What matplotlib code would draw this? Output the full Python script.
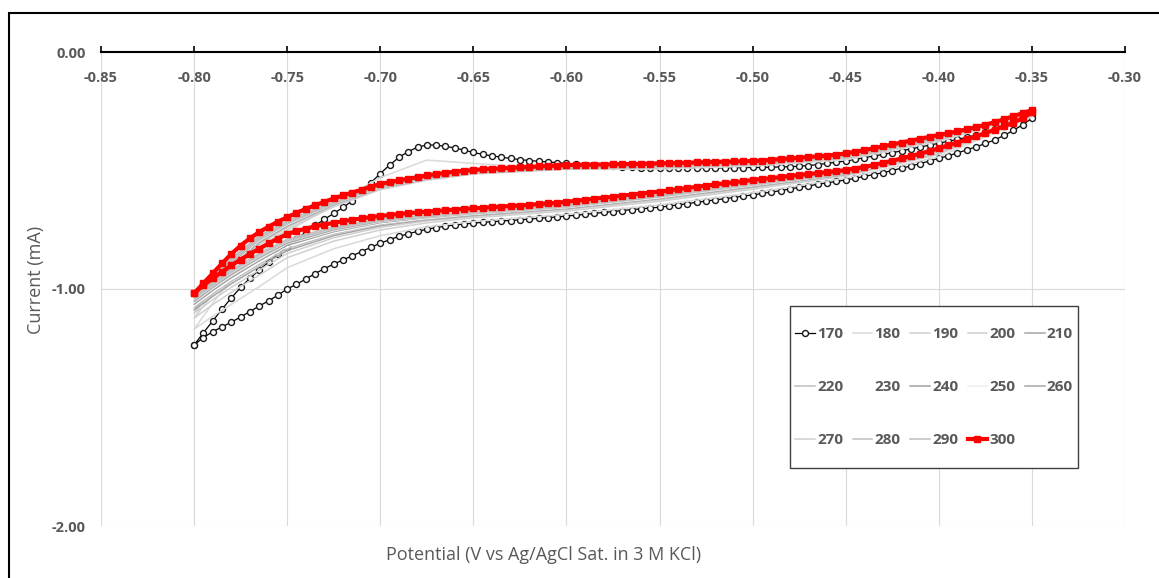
import numpy as np
import matplotlib
matplotlib.use("Agg")
import matplotlib.pyplot as plt
from matplotlib.patches import Rectangle

plt.rcParams['font.family'] = ['Open Sans', 'DejaVu Sans']
plt.rcParams['axes.unicode_minus'] = False

# ---- data -------------------------------------------------------------
# cycles 170 and 300: 0.005 V steps, forward sweep -0.35 -> -0.80, then back
v_fwd = np.linspace(-0.35, -0.80, 91)
v_rev = v_fwd[::-1]

i170_fwd = [-0.266, -0.285, -0.300, -0.314, -0.327, -0.339, -0.350, -0.360, -0.369, -0.377,
            -0.385, -0.393, -0.401, -0.409, -0.417, -0.425, -0.432, -0.439, -0.446, -0.453,
            -0.460, -0.465, -0.470, -0.475, -0.479, -0.482, -0.484, -0.485, -0.486, -0.487,
            -0.487, -0.488, -0.488, -0.489, -0.489, -0.490, -0.490, -0.490, -0.491, -0.491,
            -0.491, -0.490, -0.489, -0.487, -0.485, -0.483, -0.480, -0.478, -0.475, -0.473,
            -0.470, -0.467, -0.464, -0.461, -0.458, -0.454, -0.449, -0.444, -0.438, -0.432,
            -0.424, -0.414, -0.405, -0.398, -0.393, -0.392, -0.402, -0.420, -0.445, -0.477,
            -0.513, -0.551, -0.590, -0.628, -0.656, -0.681, -0.706, -0.732, -0.760, -0.790,
            -0.821, -0.853, -0.886, -0.920, -0.955, -0.993, -1.038, -1.085, -1.135, -1.185,
            -1.236]
i170_rev = [-1.236, -1.205, -1.180, -1.160, -1.140, -1.118, -1.095, -1.072, -1.050, -1.026,
            -1.000, -0.980, -0.958, -0.935, -0.914, -0.895, -0.877, -0.860, -0.842, -0.824,
            -0.807, -0.792, -0.778, -0.767, -0.757, -0.748, -0.741, -0.735, -0.730, -0.726,
            -0.722, -0.719, -0.716, -0.713, -0.711, -0.708, -0.705, -0.702, -0.699, -0.696,
            -0.692, -0.689, -0.685, -0.681, -0.677, -0.673, -0.669, -0.665, -0.662, -0.658,
            -0.655, -0.650, -0.645, -0.640, -0.634, -0.629, -0.624, -0.619, -0.614, -0.608,
            -0.603, -0.597, -0.591, -0.585, -0.578, -0.571, -0.565, -0.558, -0.552, -0.546,
            -0.540, -0.533, -0.525, -0.517, -0.509, -0.500, -0.490, -0.481, -0.471, -0.460,
            -0.449, -0.438, -0.426, -0.413, -0.400, -0.386, -0.371, -0.352, -0.331, -0.307,
            -0.280]

i300_fwd = [-0.245, -0.258, -0.271, -0.284, -0.296, -0.307, -0.317, -0.326, -0.335, -0.343,
            -0.350, -0.358, -0.366, -0.374, -0.382, -0.390, -0.398, -0.406, -0.414, -0.421,
            -0.428, -0.433, -0.437, -0.440, -0.443, -0.446, -0.449, -0.452, -0.455, -0.458,
            -0.460, -0.461, -0.462, -0.463, -0.464, -0.465, -0.466, -0.467, -0.468, -0.469,
            -0.470, -0.471, -0.472, -0.473, -0.473, -0.474, -0.475, -0.475, -0.476, -0.476,
            -0.477, -0.479, -0.481, -0.483, -0.485, -0.487, -0.489, -0.491, -0.493, -0.495,
            -0.498, -0.501, -0.505, -0.510, -0.515, -0.521, -0.528, -0.535, -0.542, -0.549,
            -0.557, -0.568, -0.581, -0.593, -0.605, -0.618, -0.632, -0.647, -0.662, -0.679,
            -0.697, -0.716, -0.737, -0.760, -0.786, -0.817, -0.852, -0.892, -0.934, -0.976,
            -1.018]
i300_rev = [-1.018, -0.985, -0.955, -0.928, -0.900, -0.876, -0.852, -0.830, -0.808, -0.787,
            -0.768, -0.756, -0.745, -0.736, -0.728, -0.721, -0.714, -0.708, -0.702, -0.697,
            -0.692, -0.688, -0.684, -0.680, -0.677, -0.674, -0.671, -0.668, -0.665, -0.662,
            -0.660, -0.657, -0.655, -0.652, -0.650, -0.648, -0.645, -0.642, -0.639, -0.636,
            -0.632, -0.628, -0.624, -0.619, -0.615, -0.611, -0.606, -0.602, -0.598, -0.593,
            -0.589, -0.584, -0.579, -0.574, -0.569, -0.564, -0.559, -0.554, -0.550, -0.545,
            -0.540, -0.536, -0.532, -0.528, -0.523, -0.519, -0.515, -0.511, -0.507, -0.503,
            -0.498, -0.492, -0.485, -0.477, -0.468, -0.459, -0.449, -0.439, -0.429, -0.418,
            -0.406, -0.394, -0.382, -0.369, -0.356, -0.342, -0.328, -0.313, -0.298, -0.279,
            -0.255]

# intermediate cycles, read on a coarser potential grid
vg_fwd = [-0.35, -0.40, -0.45, -0.50, -0.55, -0.60, -0.65, -0.675, -0.70, -0.725,
          -0.75, -0.765, -0.78, -0.79, -0.80]
vg_rev = vg_fwd[::-1]

gray_cycles = [180, 190, 200, 210, 220, 230, 240, 250, 260, 270, 280, 290]
gray_colors = ['#d9d9d9', '#d0d0d0', '#d0d0d0', '#a6a6a6', '#bfbfbf', '#ffffff',
               '#a0a0a0', '#ededed', '#a6a6a6', '#d0d0d0', '#c0c0c0', '#bfbfbf']

gray_fwd = {
    180: [-0.262, -0.378, -0.455, -0.482, -0.494, -0.495, -0.470, -0.456, -0.530, -0.640, -0.760, -0.850, -0.960, -1.060, -1.170],
    190: [-0.259, -0.372, -0.450, -0.477, -0.489, -0.495, -0.515, -0.541, -0.581, -0.653, -0.750, -0.824, -0.929, -1.022, -1.123],
    200: [-0.257, -0.369, -0.448, -0.475, -0.487, -0.493, -0.513, -0.538, -0.578, -0.648, -0.741, -0.813, -0.915, -1.005, -1.103],
    210: [-0.256, -0.367, -0.446, -0.474, -0.486, -0.492, -0.511, -0.536, -0.575, -0.644, -0.735, -0.805, -0.906, -0.994, -1.089],
    220: [-0.255, -0.366, -0.445, -0.473, -0.485, -0.491, -0.510, -0.535, -0.573, -0.642, -0.731, -0.800, -0.900, -0.986, -1.080],
    230: [-0.255, -0.365, -0.444, -0.472, -0.484, -0.490, -0.509, -0.533, -0.572, -0.639, -0.728, -0.795, -0.894, -0.980, -1.071],
    240: [-0.254, -0.364, -0.443, -0.471, -0.483, -0.489, -0.508, -0.532, -0.570, -0.638, -0.725, -0.792, -0.890, -0.974, -1.065],
    250: [-0.254, -0.363, -0.443, -0.470, -0.482, -0.488, -0.508, -0.531, -0.569, -0.636, -0.722, -0.788, -0.885, -0.969, -1.058],
    260: [-0.253, -0.362, -0.442, -0.470, -0.482, -0.488, -0.507, -0.531, -0.568, -0.635, -0.720, -0.785, -0.882, -0.964, -1.053],
    270: [-0.253, -0.362, -0.441, -0.469, -0.481, -0.487, -0.506, -0.530, -0.567, -0.633, -0.717, -0.782, -0.878, -0.960, -1.047],
    280: [-0.252, -0.361, -0.441, -0.469, -0.481, -0.487, -0.506, -0.529, -0.566, -0.632, -0.715, -0.779, -0.875, -0.956, -1.042],
    290: [-0.252, -0.360, -0.440, -0.468, -0.480, -0.486, -0.505, -0.528, -0.565, -0.630, -0.712, -0.775, -0.870, -0.950, -1.035],
}
gray_rev = {
    180: [-1.170, -1.115, -1.065, -0.990, -0.910, -0.830, -0.775, -0.738, -0.715, -0.685, -0.645, -0.594, -0.532, -0.442, -0.274],
    190: [-1.123, -1.066, -1.014, -0.941, -0.868, -0.798, -0.751, -0.721, -0.700, -0.671, -0.630, -0.579, -0.523, -0.432, -0.268],
    200: [-1.103, -1.045, -0.993, -0.920, -0.850, -0.784, -0.740, -0.713, -0.694, -0.665, -0.624, -0.573, -0.520, -0.428, -0.266],
    210: [-1.089, -1.031, -0.978, -0.906, -0.838, -0.775, -0.733, -0.708, -0.690, -0.661, -0.619, -0.569, -0.517, -0.425, -0.264],
    220: [-1.080, -1.021, -0.968, -0.896, -0.830, -0.768, -0.728, -0.705, -0.687, -0.658, -0.616, -0.566, -0.515, -0.423, -0.263],
    230: [-1.071, -1.013, -0.959, -0.888, -0.822, -0.763, -0.724, -0.702, -0.684, -0.656, -0.614, -0.563, -0.514, -0.422, -0.262],
    240: [-1.065, -1.006, -0.952, -0.881, -0.816, -0.758, -0.720, -0.699, -0.682, -0.654, -0.611, -0.561, -0.513, -0.420, -0.262],
    250: [-1.058, -0.999, -0.945, -0.874, -0.810, -0.754, -0.717, -0.697, -0.680, -0.652, -0.609, -0.559, -0.511, -0.419, -0.261],
    260: [-1.053, -0.993, -0.939, -0.868, -0.806, -0.750, -0.714, -0.695, -0.678, -0.650, -0.608, -0.557, -0.510, -0.418, -0.260],
    270: [-1.047, -0.988, -0.933, -0.863, -0.801, -0.746, -0.711, -0.693, -0.677, -0.649, -0.606, -0.556, -0.509, -0.417, -0.259],
    280: [-1.042, -0.982, -0.927, -0.857, -0.796, -0.743, -0.709, -0.691, -0.675, -0.647, -0.604, -0.554, -0.508, -0.415, -0.259],
    290: [-1.035, -0.975, -0.920, -0.850, -0.790, -0.738, -0.705, -0.688, -0.673, -0.645, -0.602, -0.552, -0.507, -0.414, -0.258],
}

x_ticks = [-0.85, -0.80, -0.75, -0.70, -0.65, -0.60, -0.55, -0.50, -0.45, -0.40, -0.35, -0.30]
y_ticks = [0.0, -1.0, -2.0]

# ---- figure -----------------------------------------------------------
W, H = 1159, 578
fig = plt.figure(figsize=(W / 100, H / 100), dpi=100)
ax = fig.add_axes([101 / W, 1 - 526 / H, (1125 - 101) / W, (526 - 52) / H])

txt_gray = '#595959'
handles = {}

h, = ax.plot(np.concatenate([v_fwd, v_rev]), i170_fwd + i170_rev, color='black', lw=0.9,
             marker='o', ms=4.3, mfc='white', mec='#1a1a1a', mew=1.0, label='170', zorder=3)
handles[170] = h
for cyc, col in zip(gray_cycles, gray_colors):
    h, = ax.plot(vg_fwd + vg_rev, gray_fwd[cyc] + gray_rev[cyc], color=col, lw=1.1,
                 label=str(cyc), zorder=3)
    handles[cyc] = h
h, = ax.plot(np.concatenate([v_fwd, v_rev]), i300_fwd + i300_rev, color='#ff0000', lw=3.0,
             marker='s', ms=3.8, mfc='#ff0000', mec='#ff0000', label='300', zorder=4)
handles[300] = h

ax.set_xlim(-0.85, -0.30)
ax.set_ylim(-2.0, 0.0)
ax.set_xticks(x_ticks)
ax.set_yticks(y_ticks)
ax.set_yticklabels(['%.2f' % v for v in y_ticks])
ax.grid(True, color='#d9d9d9', lw=0.8)
ax.set_axisbelow(True)
for s in ['left', 'right', 'bottom']:
    ax.spines[s].set_visible(False)
ax.spines['top'].set_color('black')
ax.spines['top'].set_linewidth(1.5)
ax.tick_params(axis='x', top=True, bottom=False, labelbottom=False, labeltop=False,
               direction='out', length=4, width=1.2, color='black')
ax.tick_params(axis='y', length=0, pad=11, labelsize=10.5, labelcolor=txt_gray)
for lbl in ax.get_yticklabels():
    lbl.set_fontweight('bold')

for v in x_ticks:
    ax.annotate('%.2f' % v, xy=(v, 0), xytext=(0, -19), textcoords='offset points',
                ha='center', va='center', fontsize=10.5, fontweight='bold', color=txt_gray,
                annotation_clip=False)

fig.text(544 / W, 1 - 555 / H, 'Potential (V vs Ag/AgCl Sat. in 3 M KCl)',
         ha='center', va='center', fontsize=13, color=txt_gray)
fig.text(36 / W, 1 - 280 / H, 'Current (mA)', rotation=90,
         ha='center', va='center', fontsize=13, color=txt_gray)

# legend: row-major in the picture, matplotlib fills columns first
order = [170, 220, 270, 180, 230, 280, 190, 240, 290, 200, 250, 300, 210, 260]
fig.add_artist(Rectangle((790 / W, 1 - 468 / H), (1078 - 790) / W, (468 - 306) / H,
                         transform=fig.transFigure, fill=True, fc='white',
                         ec='#404040', lw=1.0, zorder=5))
leg = fig.legend([handles[c] for c in order], [str(c) for c in order], ncol=5,
                 loc='center', bbox_to_anchor=(934 / W, 1 - 387 / H), frameon=False,
                 prop={'weight': 'bold', 'size': 11}, labelcolor=txt_gray,
                 handlelength=1.3, handletextpad=0.13, columnspacing=0.62,
                 labelspacing=2.55, borderpad=0, numpoints=1)
leg.set_zorder(6)

# outer chart border (cropped at right and bottom)
fig.add_artist(Rectangle((9 / W, -0.05), 1.1, (1 - 13 / H) + 0.05,
                         transform=fig.transFigure, fill=False, ec='black', lw=1.5))

fig.savefig('out.png', dpi=100)
